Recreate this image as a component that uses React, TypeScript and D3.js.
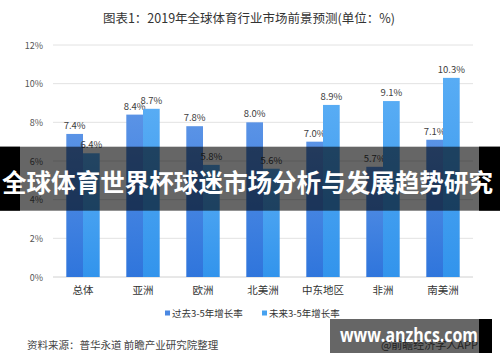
import React, {useEffect, useRef} from 'react';
import * as d3 from "d3";

const categories = ["总体", "亚洲", "欧洲", "北美洲", "中东地区", "非洲", "南美洲"];
const pastGrowth = [7.4, 8.4, 7.8, 8.0, 7.0, 5.7, 7.1];
const futureGrowth = [6.4, 8.7, 5.8, 5.6, 8.9, 9.1, 10.3];
const seriesNames = ["过去3-5年增长率", "未来3-5年增长率"];
const yTicks = [0, 2, 4, 6, 8, 10, 12];

const FONT = "'Noto Sans CJK SC', 'Noto Sans', sans-serif";

const App = () => {
    const ref = useRef<SVGSVGElement>(null);

    useEffect(() => {
        const svg = d3.select(ref.current);
        svg.selectAll("*").remove();

        const width = 500, height = 362;
        const margin = {top: 45, right: 27, bottom: 85, left: 53};

        const defs = svg.append("defs");
        const grads = [["gPast", "#5a93e6", "#2f75dc"], ["gFuture", "#58acf4", "#3294ec"]];
        grads.forEach(([id, c1, c2]) => {
            const g = defs.append("linearGradient").attr("id", id)
                .attr("x1", 0).attr("y1", 0).attr("x2", 0).attr("y2", 1);
            g.append("stop").attr("offset", "0%").attr("stop-color", c1);
            g.append("stop").attr("offset", "100%").attr("stop-color", c2);
        });

        svg.append("rect").attr("width", width).attr("height", height).attr("fill", "#fff");

        //title
        svg.append("text")
            .attr("x", 249).attr("y", 23)
            .attr("text-anchor", "middle")
            .attr("font-family", FONT).attr("font-size", 12.5)
            .attr("fill", "#333")
            .text("图表1：2019年全球体育行业市场前景预测(单位：%)");

        const x = d3.scaleBand().domain(categories)
            .range([margin.left, width - margin.right])
            .paddingInner(0).paddingOuter(0);
        const y = d3.scaleLinear().domain([0, 12])
            .range([height - margin.bottom, margin.top]);

        //gridlines + axis labels
        yTicks.forEach(t => {
            svg.append("line")
                .attr("x1", margin.left).attr("x2", width - margin.right)
                .attr("y1", y(t)).attr("y2", y(t))
                .attr("stroke", t === 0 ? "#d0d0d0" : "#e2e2e2").attr("stroke-width", 1);
            svg.append("text")
                .attr("x", 43).attr("y", y(t) + 3.5)
                .attr("text-anchor", "end")
                .attr("font-family", FONT).attr("font-size", 9)
                .attr("fill", "#555")
                .text(t + "%");
        });

        const barW = 16.7;
        const series = [pastGrowth, futureGrowth];
        series.forEach((vals, si) => {
            categories.forEach((c, i) => {
                const cx = (x(c) as number) + x.bandwidth() / 2;
                const bx = cx - barW + si * barW;
                svg.append("rect")
                    .attr("x", bx).attr("y", y(vals[i]))
                    .attr("width", barW).attr("height", y(0) - y(vals[i]))
                    .attr("fill", si === 0 ? "url(#gPast)" : "url(#gFuture)");
                svg.append("text")
                    .attr("x", bx + barW / 2).attr("y", y(vals[i]) - 5)
                    .attr("text-anchor", "middle")
                    .attr("font-family", FONT).attr("font-size", 9.5)
                    .attr("fill", "#404040")
                    .text(vals[i].toFixed(1) + "%");
            });
        });

        //category labels
        categories.forEach(c => {
            svg.append("text")
                .attr("x", (x(c) as number) + x.bandwidth() / 2).attr("y", y(0) + 17)
                .attr("text-anchor", "middle")
                .attr("font-family", FONT).attr("font-size", 10.5)
                .attr("fill", "#333")
                .text(c);
        });

        //legend
        const legendX = [165, 262];
        seriesNames.forEach((n, i) => {
            svg.append("rect")
                .attr("x", legendX[i]).attr("y", 310.5)
                .attr("width", 5).attr("height", 5)
                .attr("fill", i === 0 ? "#4a88e2" : "#47a2f0");
            svg.append("text")
                .attr("x", legendX[i] + 7).attr("y", 317)
                .attr("font-family", FONT).attr("font-size", 9.5)
                .attr("fill", "#333")
                .text(n);
        });

        //source
        svg.append("text")
            .attr("x", 27).attr("y", 349)
            .attr("font-family", FONT).attr("font-size", 10.5)
            .attr("fill", "#444")
            .text("资料来源：普华永道 前瞻产业研究院整理");

        //banner overlay
        svg.append("rect").attr("x", 0).attr("y", 146.7).attr("width", width).attr("height", 64)
            .attr("fill", "#000").attr("opacity", 0.6);
        svg.append("rect").attr("x", 0).attr("y", 146.7).attr("width", 20).attr("height", 64)
            .attr("fill", "#000");
        svg.append("rect").attr("x", 479).attr("y", 146.7).attr("width", 21).attr("height", 64)
            .attr("fill", "#000");
        svg.append("text")
            .attr("x", 2).attr("y", 192)
            .attr("textLength", 491).attr("lengthAdjust", "spacingAndGlyphs")
            .attr("font-family", FONT).attr("font-size", 24.5).attr("font-weight", "bold")
            .attr("fill", "#fff")
            .text("全球体育世界杯球迷市场分析与发展趋势研究");

        //footer watermark box
        svg.append("text")
            .attr("x", 478).attr("y", 349)
            .attr("text-anchor", "end")
            .attr("font-family", FONT).attr("font-size", 11)
            .attr("fill", "#555")
            .text("@前瞻经济学人APP");
        svg.append("rect").attr("x", 330).attr("y", 319).attr("width", 162).attr("height", 34)
            .attr("fill", "#000").attr("opacity", 0.6);
        svg.append("rect").attr("x", 479).attr("y", 319).attr("width", 13).attr("height", 34)
            .attr("fill", "#000");
        svg.append("text")
            .attr("x", 340).attr("y", 342)
            .attr("textLength", 138).attr("lengthAdjust", "spacingAndGlyphs")
            .attr("font-family", "'Open Sans', sans-serif").attr("font-size", 19).attr("font-weight", "bold")
            .attr("fill", "#fff")
            .text("www.anzhcs.com");
    }, []);

    return (
        <svg ref={ref} width={500} height={362}
             style={{position: "absolute", left: 0, top: 0, display: "block"}}></svg>
    );
};

export default App;
